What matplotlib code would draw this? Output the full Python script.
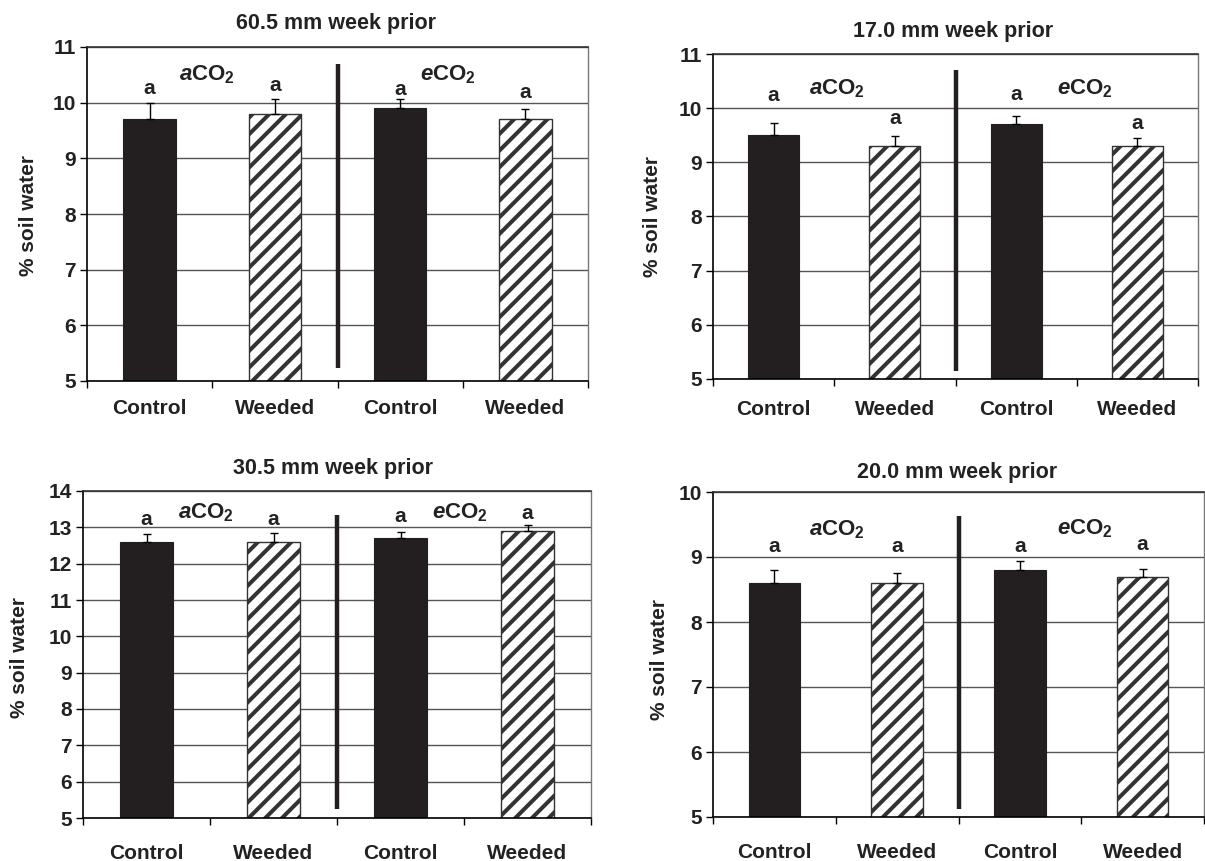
import matplotlib
matplotlib.use("Agg")
import matplotlib.pyplot as plt
import numpy as np

plt.rcParams['font.family'] = ['Liberation Sans', 'DejaVu Sans']
plt.rcParams['font.weight'] = 'bold'
plt.rcParams['mathtext.fontset'] = 'custom'
plt.rcParams['mathtext.rm'] = 'Liberation Sans:bold'
plt.rcParams['mathtext.it'] = 'Liberation Sans:italic:bold'
plt.rcParams['mathtext.bf'] = 'Liberation Sans:bold'
plt.rcParams['hatch.linewidth'] = 2.9
plt.rcParams['hatch.color'] = 'black'

# ---------------- data ----------------
categories = ["Control", "Weeded", "Control", "Weeded"]
titles = ["60.5 mm week prior", "17.0 mm week prior",
          "30.5 mm week prior", "20.0 mm week prior"]
means_p1 = [9.7, 9.8, 9.9, 9.7]
errs_p1 = [0.30, 0.27, 0.17, 0.18]
means_p2 = [9.5, 9.3, 9.7, 9.3]
errs_p2 = [0.22, 0.18, 0.16, 0.15]
means_p3 = [12.6, 12.6, 12.7, 12.9]
errs_p3 = [0.22, 0.24, 0.17, 0.16]
means_p4 = [8.6, 8.6, 8.8, 8.7]
errs_p4 = [0.20, 0.16, 0.14, 0.12]
letters = ["a", "a", "a", "a"]
letter_y_p1 = [10.26, 10.31, 10.23, 10.18]
letter_y_p2 = [10.23, 9.80, 10.25, 9.72]
letter_y_p3 = [13.22, 13.22, 13.29, 13.37]
letter_y_p4 = [9.16, 9.16, 9.16, 9.19]
ylims = [(5, 11), (5, 11), (5, 14), (5, 10)]

means = [means_p1, means_p2, means_p3, means_p4]
errs = [errs_p1, errs_p2, errs_p3, errs_p4]
letter_ys = [letter_y_p1, letter_y_p2, letter_y_p3, letter_y_p4]

# ---------------- layout (pixels) ----------------
W, H = 1205, 861
# left, right, top, bottom
boxes = [(87, 588, 47, 381), (713, 1198, 54, 379),
         (83, 591, 491, 818), (713, 1204, 492, 817)]
title_xy = [(336, 24), (953, 32), (333, 469), (957, 472)]
ylabel_xy = [(29, 215), (653, 217), (20, 657), (659, 660)]
xlab_pad = [13.0, 15.0, 18.5, 18.5]
co2_pos = [((0.46, 10.40), (2.38, 10.40)),
           ((0.52, 10.26), (2.57, 10.26)),
           ((0.47, 13.24), (2.47, 13.24)),
           ((0.51, 9.33), (2.53, 9.35))]
divider = [(5.24, 10.70), (5.14, 10.71), (5.25, 13.33), (5.13, 9.63)]

fig = plt.figure(figsize=(W / 100, H / 100), dpi=100)
x = np.arange(len(categories))
black = '#231f20'
txt = '#222222'

for i in range(4):
    l, r, t, b = boxes[i]
    ax = fig.add_axes([l / W, 1 - b / H, (r - l) / W, (b - t) / H])
    ymin, ymax = ylims[i]
    ax.set_ylim(ymin, ymax)
    ax.set_xlim(-0.5, 3.5)
    ax.set_yticks(np.arange(ymin, ymax + 1, 1))
    ax.yaxis.grid(True, color='#555555', linewidth=1.0)
    ax.set_axisbelow(True)

    for j in range(4):
        if j % 2 == 0:
            ax.bar(x[j], means[i][j], width=0.42, bottom=0, color=black,
                   edgecolor=black, linewidth=0.8, zorder=2)
        else:
            ax.bar(x[j], means[i][j], width=0.42, bottom=0, color='white',
                   edgecolor='#333333', hatch='//', linewidth=1.0, zorder=2)
        ax.errorbar(x[j], means[i][j], yerr=[[0], [errs[i][j]]], fmt='none',
                    ecolor='black', elinewidth=1.0, capsize=3, capthick=1.0,
                    zorder=3)
        ax.text(x[j], letter_ys[i][j], letters[j], ha='center', va='center',
                fontsize=15, fontweight='bold', color=txt)

    (ax_x, ax_y), (ex_x, ex_y) = co2_pos[i]
    ax.text(ax_x, ax_y, r'$\mathit{a}\mathrm{CO}_{2}$', ha='center',
            va='baseline', fontsize=16, color=txt)
    ax.text(ex_x, ex_y, r'$\mathit{e}\mathrm{CO}_{2}$', ha='center',
            va='baseline', fontsize=16, color=txt)

    d0, d1 = divider[i]
    ax.plot([1.5, 1.5], [d0, d1], color=black, linewidth=3.2,
            solid_capstyle='butt', zorder=4)

    ax.set_xticks(x)
    ax.set_xticklabels(categories, fontsize=15, fontweight='bold', color=txt)
    ax.set_xticks([-0.5, 0.5, 1.5, 2.5, 3.5], minor=True)
    ax.tick_params(axis='x', which='major', length=0, pad=xlab_pad[i])
    ax.tick_params(axis='x', which='minor', length=5, width=1.0,
                   direction='out')
    ax.tick_params(axis='y', length=5, width=1.0, direction='out', pad=3,
                   labelsize=15, labelcolor=txt)
    for lab in ax.get_yticklabels():
        lab.set_fontweight('bold')

    for s in ['left', 'bottom']:
        ax.spines[s].set_color('black')
        ax.spines[s].set_linewidth(1.2)
    ax.spines['top'].set_color('#333333')
    ax.spines['top'].set_linewidth(1.2)
    ax.spines['right'].set_color('#777777')
    ax.spines['right'].set_linewidth(1.0)

    tx, ty = title_xy[i]
    fig.text(tx / W, 1 - ty / H, titles[i], ha='center', va='center',
             fontsize=15.5, fontweight='bold', color=txt)
    lx, ly = ylabel_xy[i]
    fig.text(lx / W, 1 - ly / H, '% soil water', ha='center', va='center',
             rotation=90, fontsize=15, fontweight='bold', color=txt)

fig.savefig('out.png', dpi=100)
